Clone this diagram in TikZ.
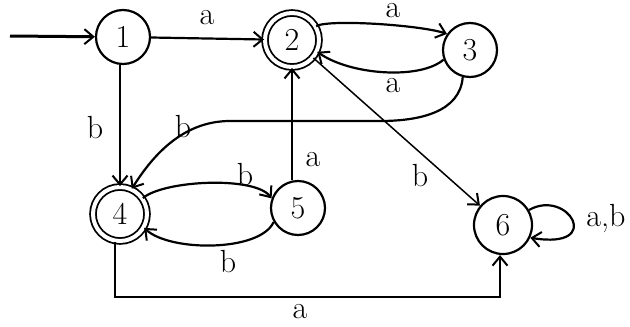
\documentclass[tikz,border=0pt]{standalone}
\usetikzlibrary{arrows.meta}
\begin{document}
\begin{tikzpicture}[x=1pt,y=-1pt,
  st/.style={circle,draw,line width=2.2pt,minimum size=54pt,inner sep=0pt,font=\fontsize{32}{34}\selectfont},
  acc/.style={st,double,double distance=4pt,line width=1.8pt},
  tr/.style={line width=2.2pt,-{Straight Barb[length=9pt,width=15pt,line width=2pt]}},
  lbl/.style={font=\fontsize{32}{34}\selectfont,inner sep=0pt}]
\useasboundingbox (0,0) rectangle (630,327);
\node[st] (n1) at (123,37) {1};
\node[acc] (n2) at (292,40) {2};
\node[st] (n3) at (470,50) {3};
\node[acc] (n4) at (120,214) {4};
\node[st] (n5) at (298,208) {5};
\node[st,minimum size=58pt] (n6) at (503,225) {6};
\coordinate (s0) at (10,36);
\coordinate (k1) at (115,297);
\coordinate (k2) at (500,297);
% start
\draw[tr,line width=3pt] (s0) -- (n1);
% 1 -> 2
\draw[tr] (n1) -- (n2);
\node[lbl] (la12) at (207,18) {a};
% 1 -> 4
\draw[tr] (n1.south -| n4.north) -- (n4.north);
\node[lbl] (lb14) at (95,128) {b};
% 2 -> 3
\draw[tr] (n2.30) .. controls (330,19) and (420,25) .. (n3.145);
\node[lbl] (la23) at (393,11) {a};
% 3 -> 2
\draw[tr] (n3.200) .. controls (420,80) and (350,75) .. (n2.-25);
\node[lbl] (la32) at (393,86) {a};
% 3 -> 4
\draw[tr] (n3.-105) .. controls (460,112) and (420,121) .. (380,121)
  -- (230,121) .. controls (180,121) and (150,160) .. (n4.65);
\node[lbl] (lb34) at (183,127) {b};
% 5 -> 2
\draw[tr] (n5.north -| n2.south) -- (n2.south);
\node[lbl] (la52) at (313,160) {a};
% 2 -> 6
\draw[tr,line width=1.5pt] (n2.-40) -- (n6.140);
\node[lbl] (lb26) at (420,176) {b};
% 4 -> 5
\draw[tr] (n4.35) .. controls (165,180) and (255,176) .. (n5.160);
\node[lbl] (lb45) at (245,175) {b};
% 5 -> 4
\draw[tr] (n5.-150) .. controls (260,252) and (170,252) .. (n4.-30);
\node[lbl] (lb54) at (228,262) {b};
% 4 -> 6
\draw[tr] (n4.south -| k1) -- (k1) -- (k2) -- (n6.south -| k2);
\node[lbl] (la46) at (300,312) {a};
% 6 loop
\draw[tr] (n6.30) .. controls (568,188) and (605,250) .. (n6.-25);
\node[lbl] (lab6) at (606,218) {a,b};
\end{tikzpicture}
\end{document}
